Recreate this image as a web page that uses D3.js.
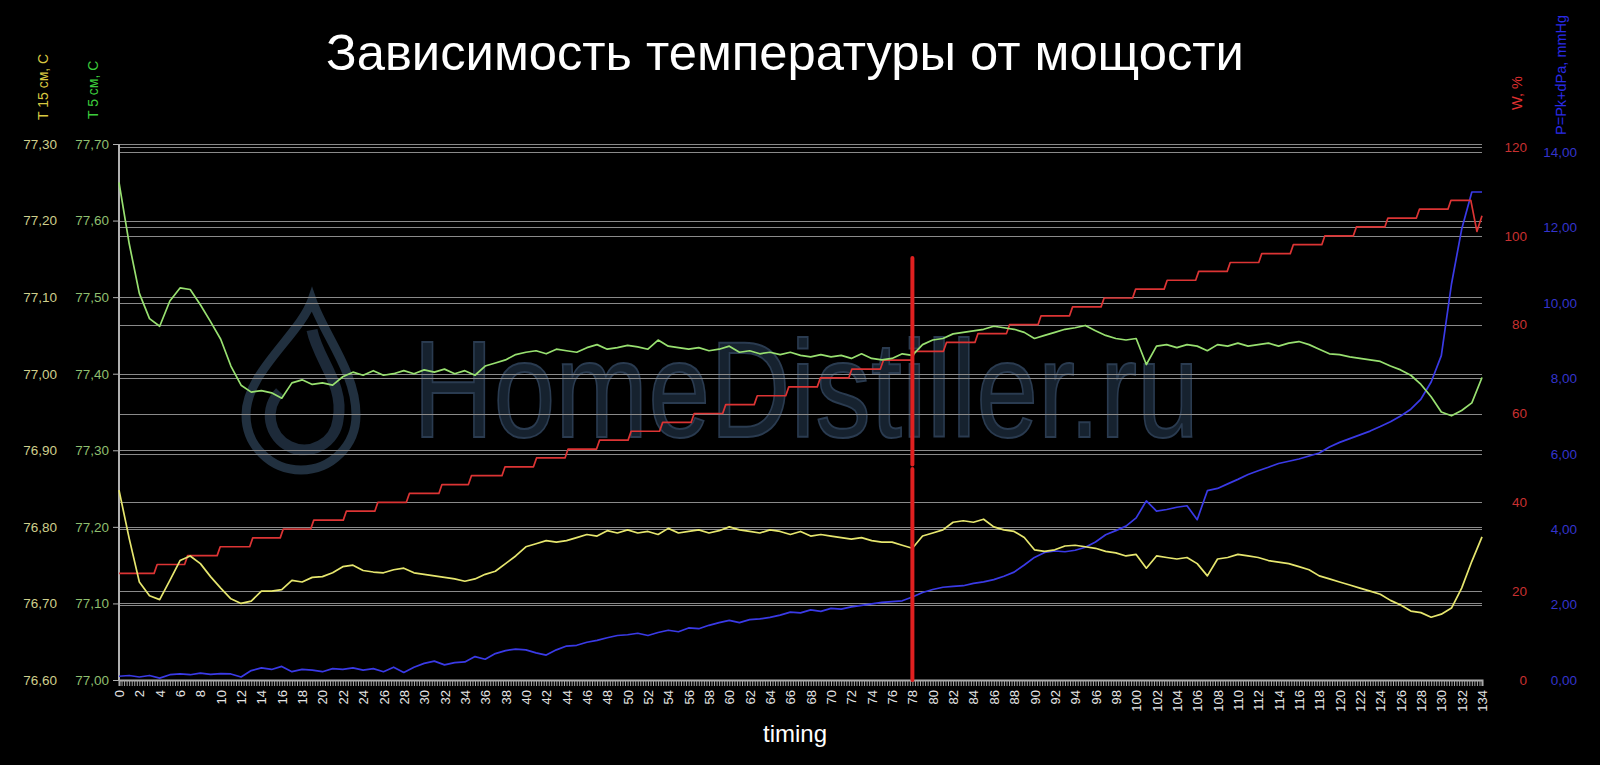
<!DOCTYPE html>
<html><head><meta charset="utf-8">
<script src="https://cdn.jsdelivr.net/npm/d3@7"></script>
<style>html,body{margin:0;padding:0;background:#000;overflow:hidden}svg{display:block}</style>
</head><body>
<svg id="c" width="1600" height="765"></svg>
<script>
// ---------- DATA ----------
const timing = d3.range(0, 135); // 0..134
const t5 = [77.650,77.570,77.505,77.472,77.462,77.495,77.512,77.510,77.490,77.468,
77.445,77.410,77.385,77.376,77.378,77.375,77.368,77.388,77.392,77.386,
77.388,77.385,77.396,77.402,77.398,77.404,77.398,77.400,77.404,77.400,
77.405,77.402,77.406,77.400,77.404,77.398,77.410,77.414,77.418,77.425,
77.428,77.430,77.426,77.432,77.430,77.428,77.434,77.438,77.432,77.434,
77.437,77.435,77.432,77.444,77.436,77.434,77.432,77.434,77.430,77.432,
77.436,77.428,77.430,77.426,77.428,77.425,77.428,77.424,77.422,77.425,
77.422,77.424,77.420,77.426,77.420,77.418,77.420,77.426,77.424,77.438,
77.444,77.446,77.452,77.454,77.456,77.458,77.462,77.460,77.458,77.454,
77.446,77.450,77.454,77.458,77.460,77.463,77.456,77.450,77.446,77.444,
77.446,77.412,77.436,77.438,77.434,77.438,77.436,77.430,77.438,77.436,
77.440,77.436,77.438,77.440,77.436,77.440,77.442,77.438,77.432,77.426,
77.425,77.422,77.420,77.418,77.416,77.410,77.405,77.398,77.386,77.370,
77.350,77.345,77.352,77.362,77.395];
const t15 = [76.848,76.785,76.728,76.710,76.705,76.730,76.756,76.762,76.752,76.735,
76.720,76.706,76.700,76.703,76.716,76.716,76.718,76.730,76.728,76.734,
76.735,76.740,76.748,76.750,76.743,76.741,76.740,76.744,76.746,76.740,
76.738,76.736,76.734,76.732,76.729,76.732,76.738,76.742,76.752,76.762,
76.774,76.778,76.782,76.780,76.782,76.786,76.790,76.788,76.795,76.792,
76.796,76.792,76.794,76.790,76.798,76.792,76.794,76.796,76.792,76.795,
76.800,76.796,76.794,76.792,76.796,76.794,76.790,76.794,76.788,76.790,
76.788,76.786,76.784,76.786,76.782,76.780,76.780,76.776,76.772,76.788,
76.792,76.796,76.806,76.808,76.806,76.810,76.800,76.796,76.794,76.786,
76.770,76.768,76.770,76.775,76.776,76.774,76.772,76.768,76.766,76.762,
76.764,76.746,76.762,76.760,76.758,76.760,76.752,76.736,76.758,76.760,
76.764,76.762,76.760,76.756,76.754,76.752,76.748,76.744,76.736,76.732,
76.728,76.724,76.720,76.716,76.712,76.704,76.698,76.690,76.688,76.682,
76.686,76.694,76.720,76.755,76.787];
const pressure = [0.10,0.12,0.08,0.12,0.05,0.14,0.16,0.14,0.18,0.15,
0.17,0.16,0.08,0.25,0.32,0.28,0.36,0.22,0.28,0.26,
0.22,0.30,0.28,0.32,0.26,0.30,0.22,0.34,0.20,0.34,
0.44,0.50,0.40,0.46,0.48,0.62,0.55,0.70,0.78,0.82,
0.80,0.72,0.66,0.80,0.90,0.92,1.00,1.05,1.12,1.18,
1.20,1.24,1.18,1.26,1.32,1.28,1.38,1.36,1.45,1.52,
1.58,1.52,1.60,1.62,1.66,1.72,1.80,1.78,1.86,1.82,
1.90,1.88,1.94,1.98,2.02,2.06,2.08,2.10,2.20,2.32,
2.40,2.46,2.48,2.50,2.56,2.60,2.66,2.75,2.86,3.05,
3.25,3.38,3.42,3.40,3.44,3.52,3.66,3.85,3.96,4.08,
4.30,4.75,4.48,4.52,4.58,4.62,4.25,5.02,5.08,5.20,
5.32,5.45,5.55,5.64,5.74,5.80,5.86,5.94,6.02,6.18,
6.30,6.40,6.50,6.60,6.72,6.85,7.00,7.18,7.45,7.90,
8.60,10.50,11.95,12.94,12.94];
// W, % : step changes (timing of step, value after step)
const wStart = 24;
const wStepX = [3.6,6.6,9.8,13.0,16.0,19.0,22.2,25.3,28.4,31.6,34.5,37.8,40.9,44.0,47.1,50.2,53.3,56.4,59.5,62.6,65.7,68.8,71.9,75.0,78.1,81.2,84.3,87.4,90.5,93.6,96.7,99.8,102.9,106.0,109.1,112.2,115.3,118.4,121.5,124.6,127.7,130.8];
const wStepV = [26,28,30,32,34,36,38,40,42,44,46,48,50,52,54,56,58,60,62,64,66,68,70,72,74,76,78,80,82,84,86,88,90,92,94,96,98,100,102,104,106,108];
const wTailX = [132.9,133.5,134];
const wTailV = [108,101,104.5];
const markerTiming = 78;
const markerTop = [95, 48.5];   // upper segment (W scale)
const markerBottom = [47.5, 0]; // lower segment (W scale)

const t5Ticks = [77.0,77.1,77.2,77.3,77.4,77.5,77.6,77.7];
const t15Ticks = [76.6,76.7,76.8,76.9,77.0,77.1,77.2,77.3];
const wTicks = [0,20,40,60,80,100,120];
const pTicks = [0,2,4,6,8,10,12,14];
const xLabelTicks = d3.range(0, 135, 2);
const xMinorTicks = d3.range(0, 134.001, 0.25);

const titleText = "Зависимость температуры от мощости";
const xTitle = "timing";
const t15Title = "T 15 см, C", t5Title = "T 5 см, C", wTitle = "W, %", pTitle = "P=Pk+dPa, mmHg";

// ---------- SCALES ----------
const X0 = 119, X1 = 1482, YB = 680;
const x = d3.scaleLinear([0,134],[X0,X1]);
const yT5 = d3.scaleLinear([77.0,77.7],[YB,144]);
const yT15 = d3.scaleLinear([76.6,77.3],[YB,144]);
const yW = d3.scaleLinear([0,120],[YB,147]);
const yP = d3.scaleLinear([0,14],[YB,152]);
const fmt2 = d => d.toFixed(2).replace('.', ',');

const svg = d3.select('#c');
const FONT = "'Liberation Sans', Arial, Helvetica, sans-serif";
svg.append('rect').attr('width',1600).attr('height',765).attr('fill','#000');

// ---------- WATERMARK ----------
const wm = svg.append('g');
wm.append('path')
  .attr('d','M312,300 C300,335 246,372 246,415 A55,55 0 1 0 356,415 C356,372 324,335 312,300 Z')
  .attr('fill','none').attr('stroke','#21303f').attr('stroke-width',9);
wm.append('path')
  .attr('d','M312,330 C318,360 345,385 338,420 A34,34 0 1 1 280,392')
  .attr('fill','none').attr('stroke','#1d2a39').attr('stroke-width',11);
wm.append('text').attr('x',413).attr('y',437)
  .attr('textLength',786).attr('lengthAdjust','spacingAndGlyphs')
  .attr('font-family',FONT).attr('font-size',138)
  .attr('fill','#16222f').attr('stroke','#2a3b50').attr('stroke-width',2)
  .text('HomeDistiller.ru');

// ---------- GRIDLINES ----------
const grid = svg.append('g').attr('stroke','#8a8a8a').attr('stroke-width',1);
[[t5Ticks,yT5],[pTicks,yP],[wTicks,yW]].forEach(([tk,sc])=>{
  grid.selectAll(null).data(tk).join('line')
    .attr('x1',X0).attr('x2',X1)
    .attr('y1',d=>Math.round(sc(d))+0.5).attr('y2',d=>Math.round(sc(d))+0.5);
});

// ---------- AXES ----------
const aT5 = svg.append('g').attr('transform',`translate(${X0},0)`)
  .call(d3.axisLeft(yT5).tickValues(t5Ticks).tickFormat(fmt2).tickSize(6).tickPadding(4));
aT5.select('.domain').attr('stroke','#b0b0b0').attr('stroke-width',2).attr('d',`M0,${YB}V144`);
aT5.selectAll('.tick line').attr('stroke','#b0b0b0');
aT5.selectAll('text').attr('fill','#8fbf6f').attr('font-family',FONT).attr('font-size',13.5);
const aT15 = svg.append('g').attr('transform',`translate(${X0},0)`)
  .call(d3.axisLeft(yT15).tickValues(t15Ticks).tickFormat(fmt2).tickSize(0).tickPadding(62));
aT15.select('.domain').remove();
aT15.selectAll('text').attr('fill','#cfcf8c').attr('font-family',FONT).attr('font-size',13.5);
const aW = svg.append('g').attr('transform','translate(1527,0)')
  .call(d3.axisLeft(yW).tickValues(wTicks).tickFormat(d=>d).tickSize(0).tickPadding(0));
aW.select('.domain').remove();
aW.selectAll('text').attr('fill','#c83030').attr('font-family',FONT).attr('font-size',13.5);
const aP = svg.append('g').attr('transform','translate(1577,0)')
  .call(d3.axisLeft(yP).tickValues(pTicks).tickFormat(fmt2).tickSize(0).tickPadding(0));
aP.select('.domain').remove();
aP.selectAll('text').attr('fill','#3434cc').attr('font-family',FONT).attr('font-size',13.5);
const aXm = svg.append('g').attr('transform',`translate(0,${YB})`)
  .call(d3.axisBottom(x).tickValues(xMinorTicks).tickFormat('').tickSize(6));
aXm.select('.domain').attr('stroke','#b0b0b0').attr('stroke-width',2);
aXm.selectAll('.tick line').attr('stroke','#a8a8a8');
const aX = svg.append('g').attr('transform',`translate(0,${YB})`)
  .call(d3.axisBottom(x).tickValues(xLabelTicks).tickFormat(d=>d).tickSize(0));
aX.select('.domain').remove();
aX.selectAll('text').attr('fill','#e6e6e6').attr('font-family',FONT).attr('font-size',13)
  .attr('transform','rotate(-90)').attr('x',-10).attr('y',0).attr('dy','0.35em').style('text-anchor','end');

// ---------- TITLES ----------
const title = svg.append('text').attr('x',785).attr('y',70).attr('text-anchor','middle')
  .attr('font-family',FONT).attr('font-size',46).attr('fill','#fff').text(titleText);
const tw = title.node().getComputedTextLength();
if (tw > 0) title.attr('font-size', 46 * 918 / tw);
svg.append('text').attr('x',795).attr('y',742).attr('text-anchor','middle')
  .attr('font-family',FONT).attr('font-size',24).attr('fill','#fff').text(xTitle);
function vTitle(txt, bx, by, col, fs){
  svg.append('text').attr('transform',`translate(${bx},${by}) rotate(-90)`)
    .attr('font-family',FONT).attr('font-size',fs).attr('fill',col).text(txt);
}
vTitle(t15Title, 48, 120, '#d8c840', 14);
vTitle(t5Title, 98, 119, '#3ccc3c', 14);
vTitle(wTitle, 1522, 110, '#e03030', 14.5);
vTitle(pTitle, 1566, 135, '#2a2ae6', 14.5);

// ---------- LINES ----------
const lineT = (sc, arr) => d3.line().x((d,i)=>x(timing[i])).y(d=>sc(d))(arr);
svg.append('path').attr('d',lineT(yP,pressure)).attr('fill','none').attr('stroke','#3a3ae6').attr('stroke-width',1.7).attr('stroke-linejoin','round');
const wPts = [[0,wStart]];
let prev = wStart;
wStepX.forEach((sx,i)=>{ wPts.push([sx-0.15,prev]); wPts.push([sx+0.15,wStepV[i]]); prev = wStepV[i]; });
wTailX.forEach((tx,i)=>wPts.push([tx,wTailV[i]]));
svg.append('path').attr('d',d3.line().x(d=>x(d[0])).y(d=>yW(d[1]))(wPts))
  .attr('fill','none').attr('stroke','#dc3434').attr('stroke-width',1.7).attr('stroke-linejoin','round');
svg.append('path').attr('d',lineT(yT15,t15)).attr('fill','none').attr('stroke','#e6e66e').attr('stroke-width',1.7).attr('stroke-linejoin','round');
svg.append('path').attr('d',lineT(yT5,t5)).attr('fill','none').attr('stroke','#98e070').attr('stroke-width',1.7).attr('stroke-linejoin','round');

// marker (two segments with a small break)
[markerTop, markerBottom].forEach(seg=>{
  svg.append('line').attr('x1',x(markerTiming)).attr('x2',x(markerTiming))
    .attr('y1',yW(seg[0])).attr('y2',yW(seg[1]))
    .attr('stroke','#e02020').attr('stroke-width',4).attr('stroke-linecap','round');
});
</script>
</body></html>
